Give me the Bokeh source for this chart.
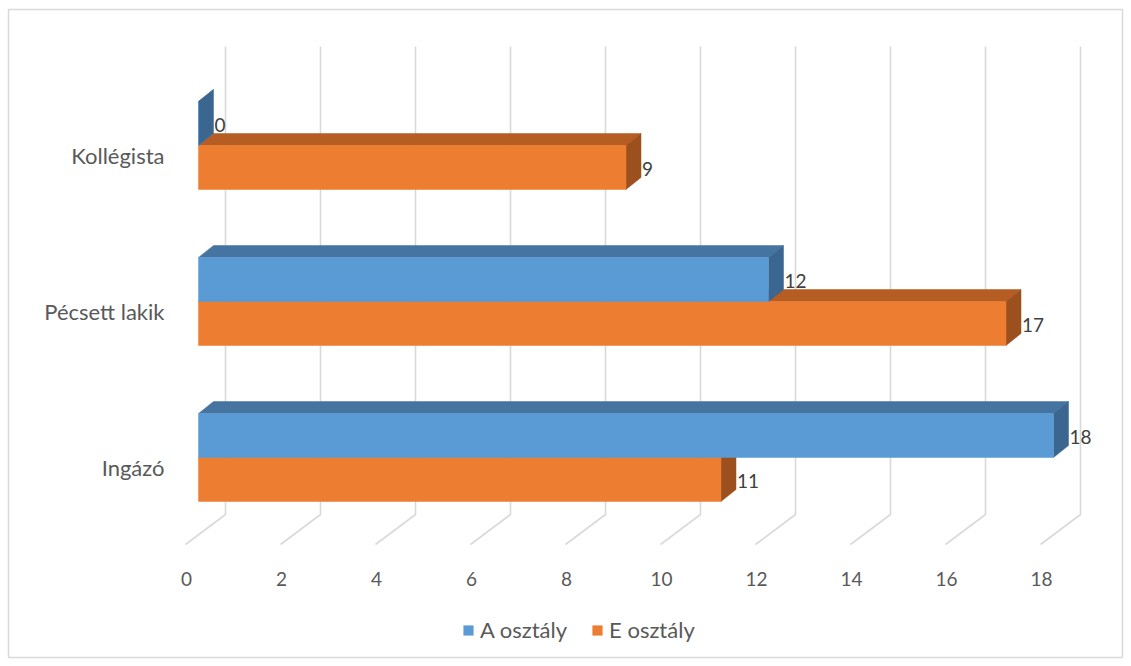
from bokeh.plotting import figure
from bokeh.models import Range1d, ColumnDataSource, Legend, LegendItem
from bokeh.embed import file_html
from bokeh.resources import INLINE
from bokeh.core.properties import value

# ---------------- data ----------------
categories = ["Kollégista", "Pécsett lakik", "Ingázó"]
series_names = ["A osztály", "E osztály"]
a_values = [0, 12, 18]
e_values = [9, 17, 11]
x_ticks = [0, 2, 4, 6, 8, 10, 12, 14, 16, 18]

# ---------------- layout / style ----------------
W, H = 1131, 666
BL, BT, BR, BB = 8, 9, 9, 9
FW, FH = W - BL - BR, H - BT - BB
S = 47.5                 # px per value unit
X0 = 177                 # px of value 0 (floor front) from frame left
x_start = -X0 / S
x_end = x_start + FW / S

FONT = "Lato"
FS = "22px"
FS_NUM = "19px"
TXT = "#595959"
GRID = "#D9D9D9"

A_COLS = ("#5B9BD5", "#4674A0", "#3A6690")   # front, top, side
E_COLS = ("#ED7D31", "#B55D23", "#9C501D")

ROW0 = 92          # y (px from frame top) of first row's top bar front
ROW_STEP = 156
BAR_H = 44
BAR_DX0 = 13       # bar front plane offset
DEPTH_X, DEPTH_Y = 15, 12   # bar depth
WALL_DX, WALL_DY = 40, 30   # back wall offset
WALL_TOP = 37
FLOOR_Y = 535
TICK_Y = 569


def px(v, dx=0.0):
    return v + dx / S


p = figure(width=W, height=H, x_range=Range1d(x_start, x_end),
           y_range=Range1d(FH, 0), output_backend="svg", toolbar_location=None,
           min_border_left=BL, min_border_top=BT, min_border_right=BR,
           min_border_bottom=BB)
p.xaxis.visible = False
p.yaxis.visible = False
p.grid.visible = False
p.outline_line_color = GRID
p.outline_line_width = 1.5
p.background_fill_color = "white"
p.border_fill_color = "white"

# grid lines (back wall + floor)
gx, gy = [], []
for t in x_ticks:
    gx.append([px(t, WALL_DX), px(t, WALL_DX), px(t, 0)])
    gy.append([WALL_TOP, FLOOR_Y - WALL_DY, FLOOR_Y])
p.multi_line(gx, gy, line_color=GRID, line_width=1.6)

# tick labels
p.text(x=[px(t, 1) for t in x_ticks], y=[TICK_Y] * len(x_ticks),
       text=[str(t) for t in x_ticks], text_align="center",
       text_baseline="middle", text_color=TXT,
       text_font=value(FONT), text_font_size=FS_NUM)

# category labels
p.text(x=[px(0, -21)] * len(categories),
       y=[ROW0 + i * ROW_STEP + BAR_H + 10 for i in range(len(categories))],
       text=categories, text_align="right", text_baseline="middle",
       text_color=TXT, text_font=value(FONT), text_font_size=FS)


def draw_series(vals, offset, cols):
    tops = [ROW0 + i * ROW_STEP + offset for i in range(len(vals))]
    bots = [t + BAR_H for t in tops]
    x0 = px(0, BAR_DX0)
    txs, tys, sxs, sys_ = [], [], [], []
    for v, t, b in zip(vals, tops, bots):
        txs.append([x0, px(v, BAR_DX0), px(v, BAR_DX0 + DEPTH_X), px(0, BAR_DX0 + DEPTH_X)])
        tys.append([t, t, t - DEPTH_Y, t - DEPTH_Y])
        sxs.append([px(v, BAR_DX0), px(v, BAR_DX0 + DEPTH_X), px(v, BAR_DX0 + DEPTH_X), px(v, BAR_DX0)])
        sys_.append([t, t - DEPTH_Y, b - DEPTH_Y, b])
    p.patches(txs, tys, fill_color=cols[1], line_color=cols[1], line_width=0.5)
    p.patches(sxs, sys_, fill_color=cols[2], line_color=cols[2], line_width=0.5)
    src = ColumnDataSource(dict(left=[x0] * len(vals), right=[px(v, BAR_DX0) for v in vals],
                                top=tops, bottom=bots))
    r = p.quad(left="left", right="right", top="top", bottom="bottom", source=src,
               fill_color=cols[0], line_color=cols[0], line_width=0.5)
    p.text(x=[px(v, BAR_DX0 + DEPTH_X + 1) for v in vals],
           y=[t + BAR_H / 2 + 1 for t in tops],
           text=[str(v) for v in vals], text_align="left", text_baseline="middle",
           text_color="#404040", text_font=value(FONT), text_font_size=FS_NUM)
    return r


r_e = draw_series(e_values, BAR_H, E_COLS)
r_a = draw_series(a_values, 0, A_COLS)

legend = Legend(items=[LegendItem(label=series_names[0], renderers=[r_a]),
                       LegendItem(label=series_names[1], renderers=[r_e])],
                orientation="horizontal", location=(454, 14),
                glyph_width=12, glyph_height=12, label_standoff=6, spacing=24,
                padding=0, margin=0, border_line_color=None,
                background_fill_alpha=0, label_text_font=FONT,
                label_text_font_size=FS, label_text_color=TXT, label_height=20)
p.add_layout(legend)

open("out.html", "w").write(file_html(p, INLINE))
